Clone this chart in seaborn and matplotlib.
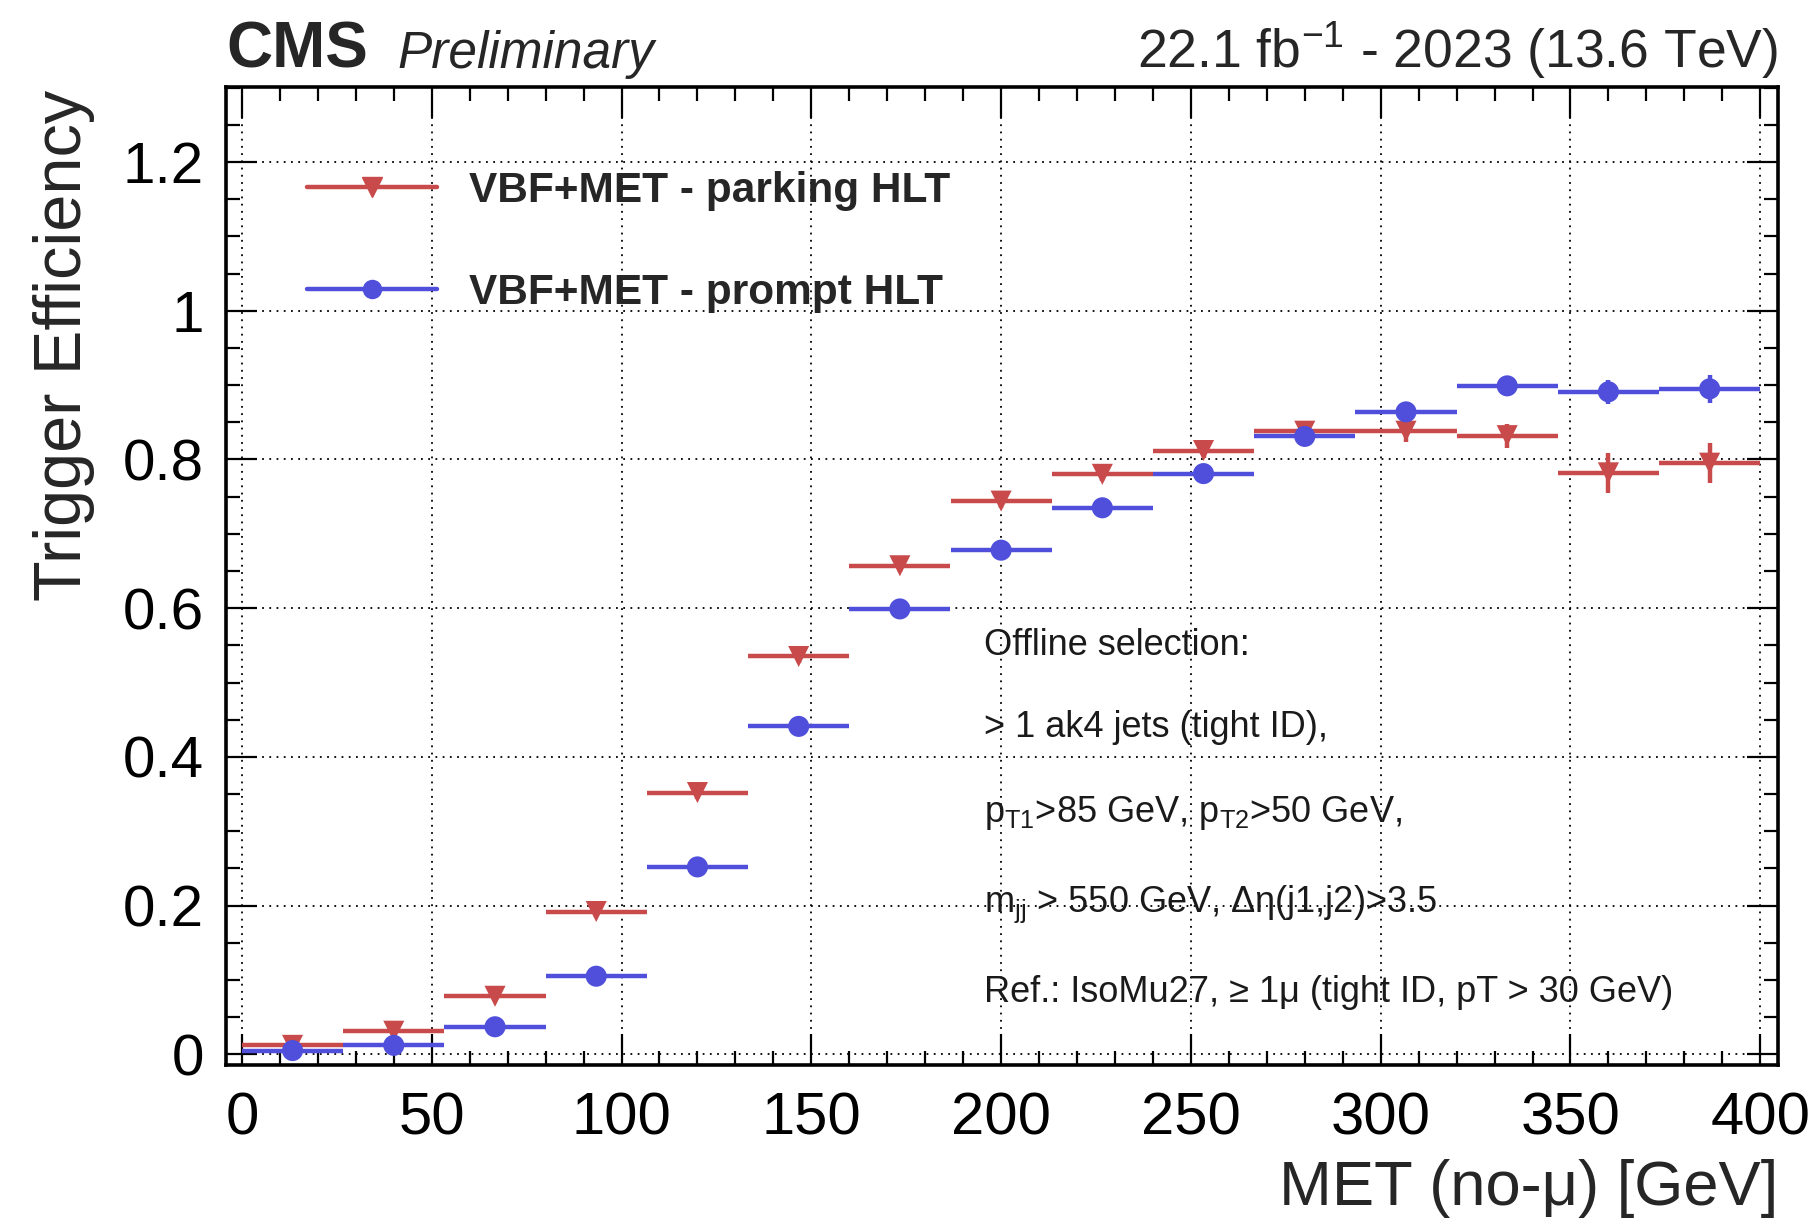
import numpy as np
import pandas as pd
import matplotlib
matplotlib.use("Agg")
import matplotlib.pyplot as plt
import seaborn as sns
from matplotlib.lines import Line2D
from matplotlib.ticker import MultipleLocator

# ---- data: trigger efficiency vs MET (no-mu), 15 bins of 26.67 GeV ----
met_center = [13.33, 40.0, 66.67, 93.33, 120.0, 146.67, 173.33, 200.0,
              226.67, 253.33, 280.0, 306.67, 333.33, 360.0, 386.67]
met_halfwidth = [13.33] * 15

eff_parking = [0.012, 0.031, 0.078, 0.192, 0.352, 0.535, 0.657, 0.744,
               0.780, 0.812, 0.838, 0.838, 0.832, 0.782, 0.795]
err_parking = [0.004, 0.005, 0.007, 0.008, 0.009, 0.009, 0.009, 0.009,
               0.009, 0.010, 0.011, 0.014, 0.016, 0.027, 0.027]

eff_prompt = [0.005, 0.012, 0.037, 0.105, 0.252, 0.441, 0.599, 0.678,
              0.735, 0.781, 0.831, 0.864, 0.899, 0.891, 0.895]
err_prompt = [0.003, 0.004, 0.006, 0.007, 0.008, 0.008, 0.008, 0.008,
              0.008, 0.009, 0.009, 0.013, 0.010, 0.016, 0.019]

series_labels = ["VBF+MET - parking HLT", "VBF+MET - prompt HLT"]
x_ticks = [0, 50, 100, 150, 200, 250, 300, 350, 400]
y_ticks = [0, 0.2, 0.4, 0.6, 0.8, 1.0, 1.2]
y_ticklabels = ["0", "0.2", "0.4", "0.6", "0.8", "1", "1.2"]

selection_lines = [
    "Offline selection:",
    "> 1 ak4 jets (tight ID),",
    r"$\mathregular{p_{T1}}$>85 GeV, $\mathregular{p_{T2}}$>50 GeV,",
    r"$\mathregular{m_{jj}}$ > 550 GeV, $\mathregular{\Delta\eta}$(j1,j2)>3.5",
    "Ref.: IsoMu27, \u2265 1\u03bc (tight ID, pT > 30 GeV)",
]

RED = "#c94a4a"
BLUE = "#4f4fdc"

df = pd.DataFrame({
    "met": met_center * 2,
    "xerr": met_halfwidth * 2,
    "eff": eff_parking + eff_prompt,
    "err": err_parking + err_prompt,
    "trigger": [series_labels[0]] * 15 + [series_labels[1]] * 15,
})

sns.set_theme(style="ticks")
plt.rcParams["font.family"] = ["Liberation Sans", "DejaVu Sans"]
plt.rcParams["mathtext.fontset"] = "custom"
plt.rcParams["mathtext.rm"] = "Liberation Sans"
plt.rcParams["mathtext.it"] = "Liberation Sans:italic"
plt.rcParams["mathtext.bf"] = "Liberation Sans:bold"

fig = plt.figure(figsize=(18.14, 12.23), dpi=100)
fig.patch.set_facecolor("white")
ax = fig.add_axes([0.1246, 0.1292, 0.9802 - 0.1246, 0.9289 - 0.1292])
ax.set_facecolor("white")

palette = {series_labels[0]: RED, series_labels[1]: BLUE}
markers = {series_labels[0]: "v", series_labels[1]: "o"}

# error bars (bin width horizontally, stat. uncertainty vertically)
for lab in series_labels:
    sub = df[df["trigger"] == lab]
    ax.errorbar(sub["met"], sub["eff"], xerr=sub["xerr"], yerr=sub["err"],
                fmt="none", ecolor=palette[lab], elinewidth=3.2, capsize=0,
                zorder=3)

sns.scatterplot(data=df, x="met", y="eff", hue="trigger", style="trigger",
                palette=palette, markers=markers, s=230, edgecolor="none",
                legend=False, ax=ax, zorder=4)

ax.set_xlim(-4.2, 404.7)
ax.set_ylim(-0.0144, 1.301)
ax.set_xlabel("")
ax.set_ylabel("")

ax.set_xticks(x_ticks)
ax.set_xticklabels([str(t) for t in x_ticks])
ax.set_yticks(y_ticks)
ax.set_yticklabels(y_ticklabels)
ax.xaxis.set_minor_locator(MultipleLocator(10))
ax.yaxis.set_minor_locator(MultipleLocator(0.05))

ax.tick_params(which="both", direction="in", top=True, right=True,
               width=1.6, color="black", labelcolor="black")
ax.tick_params(axis="x", which="major", labelsize=43, pad=19, length=22)
ax.tick_params(axis="y", which="major", labelsize=42, pad=16, length=22)
ax.tick_params(which="minor", length=10)

for sp in ax.spines.values():
    sp.set_visible(True)
    sp.set_linewidth(2.6)
    sp.set_color("black")

ax.set_axisbelow(True)
ax.grid(True, which="major", color="black", linestyle=(0, (1, 3)),
        linewidth=1.3)

# legend
handles = [
    Line2D([0], [0], color=RED, lw=3.2, marker="v", markersize=14,
           markeredgecolor=RED),
    Line2D([0], [0], color=BLUE, lw=3.2, marker="o", markersize=13,
           markeredgecolor=BLUE),
]
leg = ax.legend(handles, series_labels, loc="upper left",
                bbox_to_anchor=(307 / 1814, 1 - 171 / 1223),
                bbox_transform=fig.transFigure, frameon=False,
                prop={"size": 30.5, "weight": "bold"}, handlelength=3.07,
                handletextpad=0.75, labelspacing=1.47, numpoints=1,
                borderaxespad=0, borderpad=0)

# selection text block
y_base = [655, 737, 822, 912, 1002]
for txt, yb in zip(selection_lines, y_base):
    fig.text(984 / 1814, 1 - yb / 1223, txt, fontsize=26, ha="left",
             va="baseline", color="#1a1a1a")

# header
fig.text(226 / 1814, 1 - 68 / 1223, "CMS", fontsize=46, fontweight="bold",
         ha="left", va="baseline")
fig.text(397 / 1814, 1 - 68 / 1223, "Preliminary", fontsize=37,
         fontstyle="italic", ha="left", va="baseline")
fig.text(1778 / 1814, 1 - 68 / 1223,
         r"22.1 fb$^{\mathregular{-1}}$ - 2023 (13.6 TeV)", fontsize=38.5,
         ha="right", va="baseline")

# axis titles
fig.text(1778 / 1814, 1 - 1205 / 1223, "MET (no-\u03bc) [GeV]", fontsize=45.5,
         ha="right", va="baseline")
fig.text(64 / 1814, 1 - 90 / 1223, "Trigger Efficiency", fontsize=48,
         rotation=90, ha="center", va="top")

fig.savefig("out.png", dpi=100, facecolor="white")
